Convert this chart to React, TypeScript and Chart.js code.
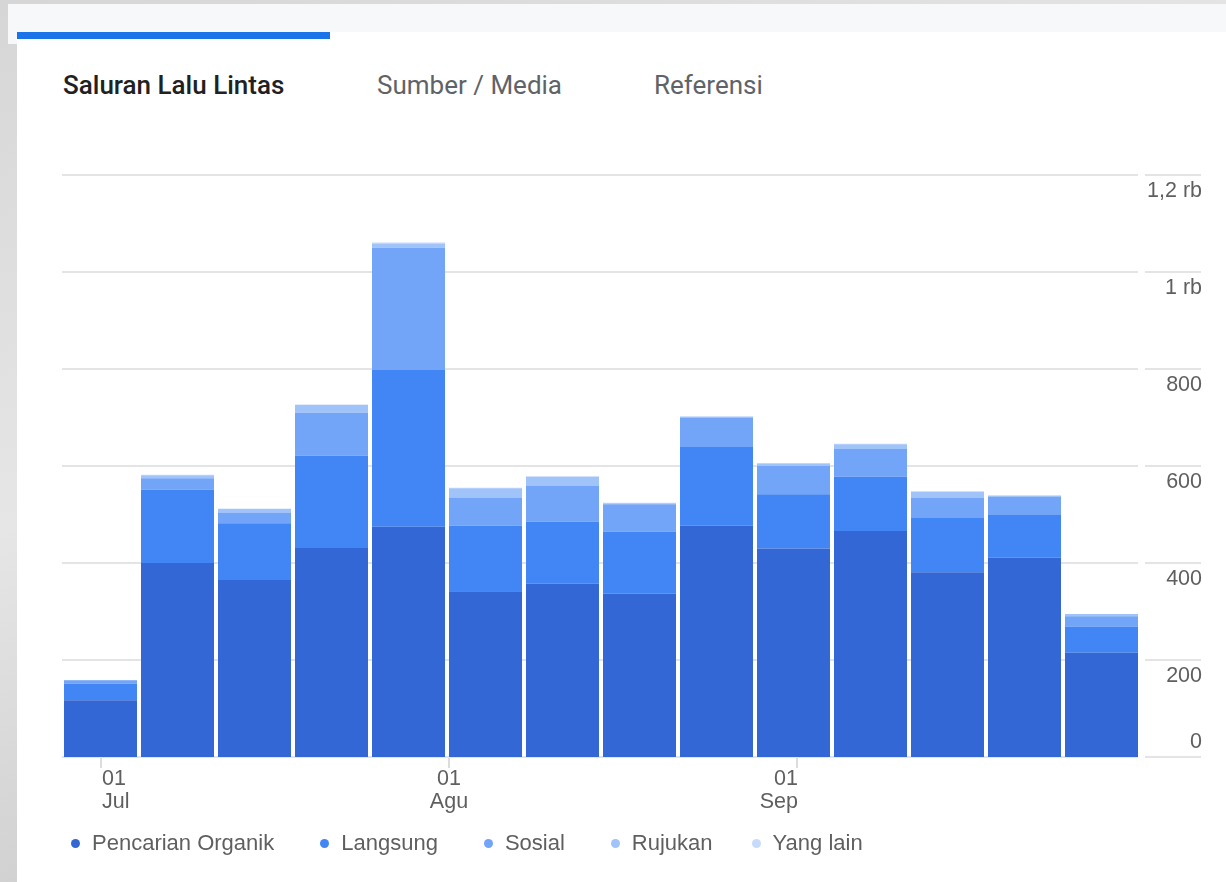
import React, { useEffect, useRef } from 'react';
import { Chart, registerables } from 'chart.js';

Chart.register(...registerables);

// ---- data ----
const weeks = ['M1', 'M2', 'M3', 'M4', 'M5', 'M6', 'M7', 'M8', 'M9', 'M10', 'M11', 'M12', 'M13', 'M14'];
const organik = [117, 400, 365, 431, 475, 342, 357, 337, 477, 430, 466, 381, 411, 215];
const langsung = [34, 151, 117, 190, 324, 135, 128, 128, 162, 112, 112, 112, 88, 54];
const sosial = [7, 24, 22, 89, 251, 58, 74, 56, 61, 58, 57, 42, 37, 21];
const rujukan = [1, 6, 8, 16, 9, 19, 19, 2, 2, 5, 10, 12, 3, 5];
const yangLain = [0, 1, 0, 1, 2, 1, 1, 1, 0, 1, 1, 1, 0, 0];

const seriesNames = ['Pencarian Organik', 'Langsung', 'Sosial', 'Rujukan', 'Yang lain'];
const seriesColors = ['#3367d6', '#4285f4', '#72a4f7', '#a0c3f9', '#c6dafc'];
const seriesValues = [organik, langsung, sosial, rujukan, yangLain];

const yTickValues = [0, 200, 400, 600, 800, 1000, 1200];
const yTickLabels = ['0', '200', '400', '600', '800', '1 rb', '1,2 rb'];

const dateTickPos = [0, 4.52, 9.04];
const dateTickDay = ['01', '01', '01'];
const dateTickMonth = ['Jul', 'Agu', 'Sep'];

const tabLabels = ['Saluran Lalu Lintas', 'Sumber / Media', 'Referensi'];

const W = 1226;
const H = 882;
const LABEL_FONT = '21.5px "Liberation Sans", Arial, sans-serif';
const TEXT_GRAY = '#5f5f5f';

const gaAxesPlugin = {
  id: 'gaAxes',
  beforeDatasetsDraw(chart: any) {
    const { ctx, chartArea, scales } = chart;
    const y = scales.y;
    ctx.save();
    ctx.lineWidth = 2;
    ctx.strokeStyle = '#e4e4e6';
    yTickValues.forEach((v) => {
      const gy = Math.round(y.getPixelForValue(v));
      ctx.beginPath();
      ctx.moveTo(chartArea.left, gy);
      ctx.lineTo(chartArea.right - 2, gy);
      ctx.stroke();
      ctx.beginPath();
      ctx.moveTo(chartArea.right + 5, gy);
      ctx.lineTo(chartArea.right + 61, gy);
      ctx.stroke();
    });
    ctx.restore();
  },
  afterDatasetsDraw(chart: any) {
    const { ctx, chartArea, scales } = chart;
    const x = scales.x;
    const y = scales.y;
    ctx.save();
    ctx.font = LABEL_FONT;
    ctx.fillStyle = TEXT_GRAY;
    ctx.textBaseline = 'alphabetic';
    ctx.textAlign = 'right';
    yTickValues.forEach((v, i) => {
      const gy = Math.round(y.getPixelForValue(v));
      const ty = i === 0 ? gy - 9 : gy + 22;
      ctx.fillText(yTickLabels[i], chartArea.right + 62, ty);
    });
    const n = dateTickPos.length;
    dateTickPos.forEach((p, i) => {
      const tx = Math.round(x.getPixelForValue(p));
      ctx.strokeStyle = '#dcdcdc';
      ctx.lineWidth = 2;
      ctx.beginPath();
      ctx.moveTo(tx, chartArea.bottom + 1);
      ctx.lineTo(tx, chartArea.bottom + 11);
      ctx.stroke();
      let align: CanvasTextAlign = 'center';
      let ax = tx;
      if (i === 0) { align = 'left'; ax = tx + 1; }
      else if (i === n - 1) { align = 'right'; ax = tx + 1; }
      ctx.textAlign = align;
      ctx.fillText(dateTickDay[i], ax, chartArea.bottom + 28);
      ctx.fillText(dateTickMonth[i], ax, chartArea.bottom + 51);
    });
    ctx.restore();
  },
};

function TrafficChart() {
  const ref = useRef<HTMLCanvasElement | null>(null);
  useEffect(() => {
    if (!ref.current) return;
    const chart = new Chart(ref.current, {
      type: 'bar',
      data: {
        labels: weeks,
        datasets: seriesNames.map((name, i) => ({
          label: name,
          data: seriesValues[i],
          backgroundColor: seriesColors[i],
          borderWidth: 0,
          barPercentage: 73 / 77,
          categoryPercentage: 1,
        })),
      },
      options: {
        responsive: false,
        animation: false,
        devicePixelRatio: 1,
        layout: { padding: { left: 62, right: 86, top: 175, bottom: 125 } },
        scales: {
          x: { stacked: true, display: false, offset: true },
          y: { stacked: true, display: false, min: 0, max: 1200 },
        },
        plugins: {
          legend: { display: false },
          tooltip: { enabled: false },
        },
      },
      plugins: [gaAxesPlugin],
    });
    return () => chart.destroy();
  }, []);
  return (
    <canvas
      ref={ref}
      width={W}
      height={H}
      style={{ position: 'absolute', left: 0, top: 0, width: W, height: H }}
    />
  );
}

export default function App() {
  const tabLefts = [63, 377, 654];
  return (
    <div
      style={{
        position: 'absolute',
        left: 0,
        top: 0,
        width: W,
        height: H,
        overflow: 'hidden',
        background: 'linear-gradient(160deg, #d6d6d6 0%, #e6e6e6 40%, #cfcfcf 70%, #bdbdbd 100%)',
      }}
    >
      <div style={{ position: 'absolute', left: 8, top: 4, right: 0, height: 40, background: '#f7f8f9' }} />
      <div style={{ position: 'absolute', left: 17, top: 32, right: 0, bottom: 0, background: '#ffffff' }} />
      <div style={{ position: 'absolute', left: 17, top: 32, width: 313, height: 7, background: '#1a73e8' }} />
      {tabLabels.map((t, i) => (
        <div
          key={t}
          style={{
            position: 'absolute',
            left: tabLefts[i],
            top: 68,
            fontFamily: 'Roboto, "Noto Sans", sans-serif',
            fontSize: 26,
            lineHeight: '34px',
            fontWeight: i === 0 ? 500 : 400,
            color: i === 0 ? '#212121' : '#5f6368',
            whiteSpace: 'nowrap',
          }}
        >
          {t}
        </div>
      ))}
      <TrafficChart />
      <div
        style={{
          position: 'absolute',
          left: 71,
          top: 829,
          height: 28,
          display: 'flex',
          alignItems: 'center',
          fontFamily: '"Liberation Sans", Arial, sans-serif',
          fontSize: 22,
          color: TEXT_GRAY,
          whiteSpace: 'nowrap',
        }}
      >
        {seriesNames.map((name, i) => (
          <div key={name} style={{ display: 'flex', alignItems: 'center', marginRight: i === 3 ? 39 : 46 }}>
            <span
              style={{
                display: 'inline-block',
                width: 9,
                height: 9,
                borderRadius: '50%',
                background: seriesColors[i],
                marginRight: 12,
              }}
            />
            <span>{name}</span>
          </div>
        ))}
      </div>
    </div>
  );
}
